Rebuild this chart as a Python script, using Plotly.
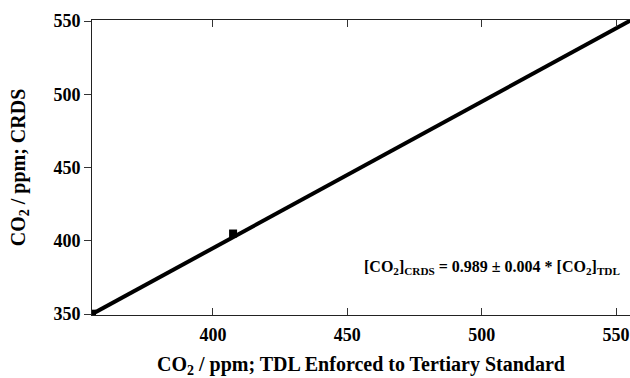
import plotly.graph_objects as go

# data
pts_x = [355.0, 407.5]
pts_y = [350.3, 405.0]
fit_x = [355.0, 556.0]
fit_y = [350.0, 551.0]
x_ticks = [400, 450, 500, 550]
y_ticks = [350, 400, 450, 500, 550]

FONT = "Liberation Serif"
TICKF = dict(family=FONT, size=18, color="black")
TITLEF = dict(family=FONT, size=20, color="black")

fig = go.Figure()
fig.add_trace(go.Scatter(x=fit_x, y=fit_y, mode="lines",
                         line=dict(color="black", width=4), showlegend=False))
fig.add_trace(go.Scatter(x=pts_x, y=pts_y, mode="markers",
                         marker=dict(symbol="square", size=8, color="black"),
                         showlegend=False))

fig.add_annotation(x=1.0, y=0.16, xref="paper", yref="paper", xanchor="right", yanchor="middle",
                   xshift=-8,
                   text="<b>[CO<sub>2</sub>]<sub>CRDS</sub> = 0.989 ± 0.004 * [CO<sub>2</sub>]<sub>TDL</sub></b>",
                   showarrow=False, font=dict(family=FONT, size=16, color="black"))

fig.update_layout(
    width=630, height=378,
    margin=dict(l=92, r=0, t=20, b=63),
    paper_bgcolor="white", plot_bgcolor="white",
    font=dict(family=FONT, size=15, color="black"),
    xaxis=dict(range=[355, 555.2], tickvals=x_ticks,
               ticktext=["<b>%d</b>" % v for v in x_ticks],
               ticks="inside", ticklen=7, ticklabelstandoff=3,
               tickcolor="#333", showline=True, linecolor="#222", linewidth=1,
               mirror="ticks", showgrid=False, zeroline=False,
               tickfont=TICKF,
               title=dict(text="<b>CO<sub>2</sub> / ppm; TDL Enforced to Tertiary Standard</b>",
                          font=TITLEF, standoff=17)),
    yaxis=dict(range=[349.4, 550.7], tickvals=y_ticks,
               ticktext=["<b>%d</b>" % v for v in y_ticks],
               ticks="outside", ticklen=7,
               tickcolor="#333", showline=True, linecolor="#222", linewidth=1,
               showgrid=False, zeroline=False,
               tickfont=TICKF,
               title=dict(text="<b>CO<sub>2</sub> / ppm; CRDS</b>",
                          font=TITLEF, standoff=22)),
)

fig.write_html("out.html")
